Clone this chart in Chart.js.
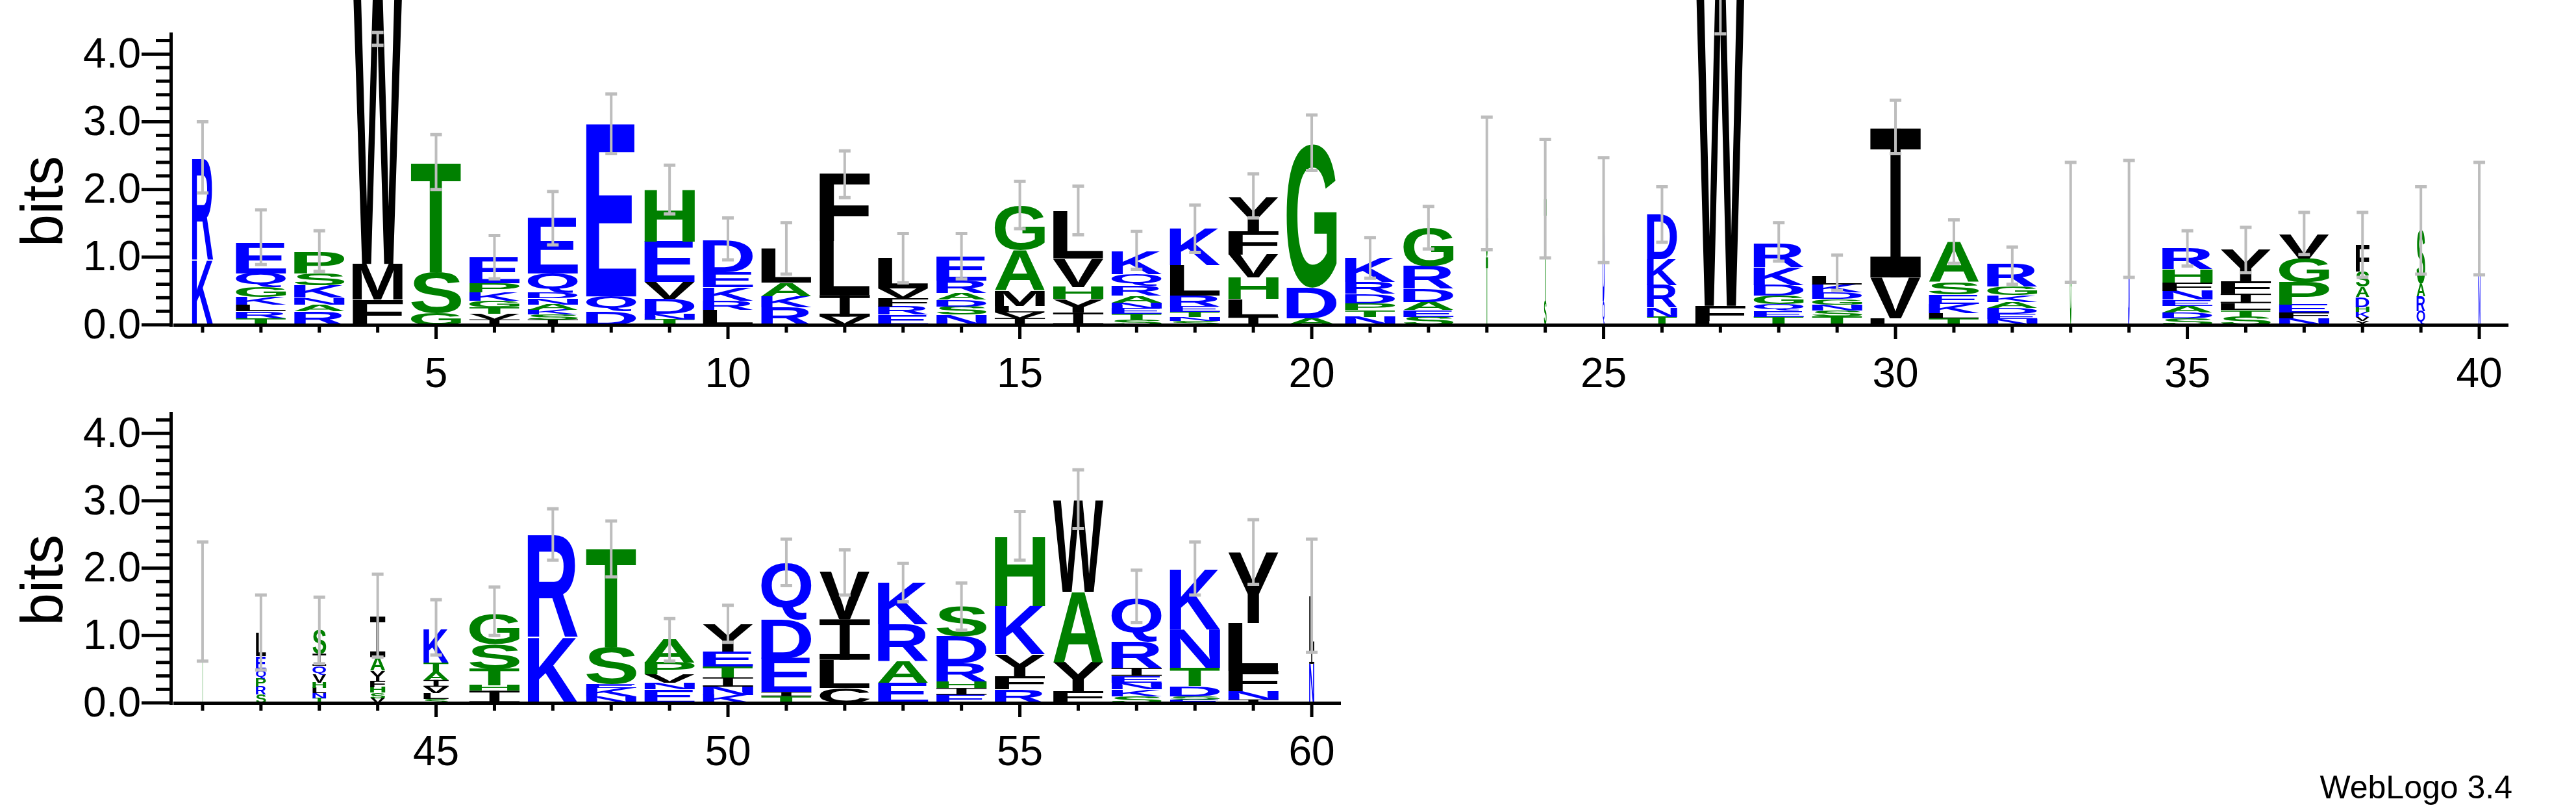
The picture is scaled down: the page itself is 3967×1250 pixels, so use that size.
<!DOCTYPE html>
<html>
<head>
<meta charset="utf-8">
<script src="https://cdn.jsdelivr.net/npm/chart.js@4"></script>
<style>
  body { margin: 0; background: #fff; width: 3967px; height: 1250px; position: relative; overflow: hidden; }
  canvas { position: absolute; left: 0; }
  #credit { position: absolute; right: 98px; top: 1187px; font: 50px/1 "Liberation Sans", Arial, sans-serif; color: #000; }
</style>
</head>
<body>
<canvas id="top" width="3967" height="620" style="top:0"></canvas>
<canvas id="bottom" width="3967" height="630" style="top:620px"></canvas>
<div id="credit">WebLogo 3.4</div>
<script>
// Sequence logo data, one entry per position (letters listed bottom -> top)
const positions = [];
for (let i = 1; i <= 60; i++) positions.push(i);

const stackLetters = [
  "KR", "TRLKGQE", "RANKSP", "FMW", "GST", "IVTGKPE", "ISKANDQE", "DQE", "TNDVEH", "LRKED",
  "RKAL", "VILF", "ERFVL", "NSDARE", "IVLMAG", "IYHVL", "STENARQK", "SNTERLK", "ILHVFY", "ADG",
  "NTPDRK", "SEADRG", "TG", "ST", "QD", "TNRKD", "LFW", "TEQGDKR", "TSNGDKL", "LVI",
  "TLKESA", "NEDAKGR", "G", "D", "SDAENFHR", "STLIFY", "NFEPGV", "YVKHDASF", "QRAS", "NT",
  "T", "SRPQEL", "TNLHVQIS", "VSHFYAI", "SLVIATK", "IHTSG", "KR", "NKEST", "ENVPA", "KNITEY",
  "TIEDQ", "CLIV", "EARK", "EIHRDS", "RFYKH", "FYAW", "SKNEIRQ", "ESDTNK", "INFLY", "NIL"
];

const stackBits = [
  [0.95, 1.5], [0.1, 0.1, 0.1, 0.11, 0.15, 0.2, 0.45], [0.2, 0.1, 0.1, 0.18, 0.18, 0.32], [0.37, 0.53, 4.3], [0.17, 0.61, 1.62],
  [0.08, 0.08, 0.1, 0.1, 0.12, 0.13, 0.38], [0.08, 0.07, 0.07, 0.08, 0.09, 0.09, 0.28, 0.82], [0.2, 0.22, 2.55], [0.08, 0.08, 0.22, 0.25, 0.6, 0.77], [0.22, 0.14, 0.2, 0.22, 0.47],
  [0.26, 0.16, 0.2, 0.5], [0.12, 0.32, 0.8, 1.0], [0.15, 0.12, 0.12, 0.15, 0.45], [0.15, 0.12, 0.1, 0.1, 0.18, 0.36], [0.1, 0.08, 0.1, 0.22, 0.6, 0.66],
  [0.18, 0.2, 0.18, 0.42, 0.7], [0.08, 0.08, 0.08, 0.09, 0.1, 0.15, 0.17, 0.33], [0.06, 0.06, 0.07, 0.08, 0.16, 0.45, 0.55], [0.12, 0.26, 0.32, 0.34, 0.34, 0.5], [0.1, 0.45, 2.12],
  [0.12, 0.1, 0.1, 0.14, 0.17, 0.36], [0.12, 0.1, 0.12, 0.2, 0.33, 0.57], [1.0, 1.09], [0.35, 1.52], [0.35, 1.35],
  [0.12, 0.14, 0.33, 0.38, 0.66], [0.06, 0.22, 5.2], [0.12, 0.09, 0.1, 0.12, 0.16, 0.26, 0.35], [0.12, 0.09, 0.09, 0.08, 0.1, 0.12, 0.12], [0.1, 0.6, 2.2],
  [0.1, 0.07, 0.14, 0.14, 0.18, 0.6], [0.09, 0.07, 0.09, 0.09, 0.1, 0.12, 0.33], [1.5], [1.58], [0.1, 0.08, 0.1, 0.09, 0.13, 0.12, 0.2, 0.31],
  [0.12, 0.1, 0.1, 0.14, 0.18, 0.46], [0.1, 0.08, 0.12, 0.33, 0.35, 0.36], [0.06, 0.06, 0.07, 0.07, 0.15, 0.15, 0.23, 0.39], [0.2, 0.22, 0.18, 0.8], [0.8, 0.76],
  [1.5], [0.12, 0.12, 0.12, 0.13, 0.2, 0.35], [0.07, 0.07, 0.08, 0.08, 0.12, 0.13, 0.18, 0.35], [0.07, 0.08, 0.08, 0.1, 0.15, 0.2, 0.6], [0.06, 0.08, 0.1, 0.1, 0.12, 0.14, 0.5],
  [0.18, 0.08, 0.25, 0.36, 0.44], [0.97, 1.52], [0.1, 0.12, 0.06, 0.55, 1.47], [0.2, 0.1, 0.12, 0.18, 0.35], [0.12, 0.12, 0.14, 0.16, 0.22, 0.4],
  [0.1, 0.06, 0.5, 0.58, 0.84], [0.22, 0.42, 0.6, 0.7], [0.3, 0.32, 0.55, 0.62], [0.12, 0.1, 0.1, 0.27, 0.4, 0.44], [0.2, 0.2, 0.32, 0.72, 1.03],
  [0.17, 0.43, 1.05, 1.36], [0.1, 0.1, 0.1, 0.1, 0.12, 0.39, 0.65], [0.05, 0.05, 0.15, 0.27, 0.57, 0.9], [0.05, 0.12, 0.3, 0.72, 1.05], [0.58, 0.2, 0.8]
];

const colWeight = [
  0.42, 1, 1, 1, 1, 1, 1, 1, 1, 1, 1, 1, 1, 1, 1, 1, 1, 1, 1, 1,
  1, 1, 0.04, 0.05, 0.04, 0.6, 1, 1, 1, 1, 1, 1, 0.03, 0.03, 1, 1, 1, 0.27, 0.17, 0.04,
  0.02, 0.2, 0.27, 0.3, 0.5, 1, 1, 1, 1, 1, 1, 1, 1, 1, 1, 1, 1, 1, 1, 0.1
];

const errLow = [
  1.95, 0.89, 0.79, 4.13, 2.0, 0.68, 1.18, 2.53, 1.64, 0.96, 0.75, 1.88, 0.62, 0.68, 1.42, 1.33, 0.82, 1.07, 1.58, 2.28,
  0.69, 1.12, 1.11, 0.99, 0.92, 1.22, 4.3, 0.94, 0.51, 2.53, 0.91, 0.6, 0.63, 0.7, 0.87, 0.77, 1.04, 0.7, 0.75, 0.74,
  0.62, 0.49, 0.58, 0.68, 0.71, 1.0, 2.12, 1.87, 0.62, 0.9, 1.74, 1.6, 1.5, 1.08, 2.12, 2.59, 1.19, 1.6, 1.76, 0.75
];
const errHigh = [
  3.0, 1.7, 1.39, 4.32, 2.81, 1.32, 1.97, 3.41, 2.36, 1.58, 1.51, 2.57, 1.35, 1.35, 2.12, 2.05, 1.38, 1.77, 2.23, 3.1,
  1.29, 1.75, 3.07, 2.74, 2.47, 2.04, 5.0, 1.51, 1.03, 3.32, 1.55, 1.15, 2.4, 2.43, 1.39, 1.44, 1.66, 1.66, 2.04, 2.4,
  2.39, 1.6, 1.57, 1.91, 1.53, 1.72, 2.88, 2.7, 1.25, 1.45, 2.43, 2.27, 2.07, 1.78, 2.84, 3.46, 1.97, 2.39, 2.72, 2.43
];

const yTickLabels = ["0.0", "1.0", "2.0", "3.0", "4.0"];

function letterColor(ch) {
  if ("RKDENQ".includes(ch)) return "#0000ff";
  if ("SGHTAP".includes(ch)) return "#008000";
  return "#000000";
}

const glyphCache = {};
function glyph(ctx, ch) {
  if (!glyphCache[ch]) {
    ctx.font = 'bold 200px "Liberation Sans", Arial, sans-serif';
    const m = ctx.measureText(ch);
    glyphCache[ch] = { l: m.actualBoundingBoxLeft, r: m.actualBoundingBoxRight, a: m.actualBoundingBoxAscent, d: m.actualBoundingBoxDescent };
  }
  return glyphCache[ch];
}

// draws the letters, error bars and the axes
const logoPlugin = {
  id: 'logo',
  afterDraw(chart, args, opts) {
    const ctx = chart.ctx;
    const xs = chart.scales.x, ys = chart.scales.y;
    const unit = xs.getPixelForValue(1) - xs.getPixelForValue(0);
    ctx.save();
    ctx.textBaseline = 'alphabetic';
    for (let p = opts.from; p <= opts.to; p++) {
      const i = p - 1;
      const w = unit * 0.86 * colWeight[i];
      const cx = xs.getPixelForValue(p);
      let acc = 0;
      const lets = stackLetters[i], bits = stackBits[i];
      for (let k = 0; k < lets.length; k++) {
        const ch = lets[k];
        const yb = ys.getPixelForValue(acc);
        const yt = ys.getPixelForValue(acc + bits[k]);
        acc += bits[k];
        const h = yb - yt;
        if (h < 0.5) continue;
        ctx.fillStyle = letterColor(ch);
        if (ch === 'I') {
          // serif I like the weblogo font
          const bar = Math.max(1, h * 0.14);
          const stem = w * 0.2;
          ctx.fillRect(cx - w / 2, yt, w, bar);
          ctx.fillRect(cx - w / 2, yb - bar, w, bar);
          ctx.fillRect(cx - stem / 2, yt, stem, h);
          continue;
        }
        const g = glyph(ctx, ch);
        ctx.save();
        ctx.translate(cx - w / 2, yt);
        ctx.scale(w / (g.l + g.r), h / (g.a + g.d));
        ctx.font = 'bold 200px "Liberation Sans", Arial, sans-serif';
        ctx.fillText(ch, g.l, g.a);
        ctx.restore();
      }
      // error bar
      const ylo = ys.getPixelForValue(errLow[i]), yhi = ys.getPixelForValue(errHigh[i]);
      ctx.strokeStyle = '#bdbdbd';
      ctx.lineWidth = 4;
      ctx.beginPath();
      ctx.moveTo(cx, ylo); ctx.lineTo(cx, yhi);
      ctx.stroke();
      ctx.lineWidth = 5;
      ctx.beginPath();
      ctx.moveTo(cx - 9, ylo); ctx.lineTo(cx + 9, ylo);
      ctx.moveTo(cx - 9, yhi); ctx.lineTo(cx + 9, yhi);
      ctx.stroke();
    }
    // axes
    const y0 = ys.getPixelForValue(0);
    const yTop = ys.getPixelForValue(ys.max);
    const xl = xs.getPixelForValue(xs.min), xr = xs.getPixelForValue(xs.max);
    ctx.fillStyle = '#000';
    ctx.fillRect(xl - 6, yTop, 5, y0 - yTop + 3);
    ctx.fillRect(xl, y0 - 2, xr - xl, 5);
    ctx.font = '64px "Liberation Sans", Arial, sans-serif';
    ctx.textAlign = 'right';
    ctx.textBaseline = 'middle';
    for (let t = 0; t <= 21; t++) {
      const v = t * 0.2;
      const yy = ys.getPixelForValue(v);
      const major = t % 5 === 0;
      const len = major ? 43 : 21;
      ctx.fillRect(xl - 6 - len, yy - 2.5, len, 5);
      if (major) ctx.fillText(yTickLabels[t / 5], xl - 50, yy + 3);
    }
    ctx.textAlign = 'center';
    ctx.textBaseline = 'middle';
    for (let p = opts.from; p <= opts.to; p++) {
      const xx = xs.getPixelForValue(p);
      const major = p % 5 === 0;
      ctx.fillRect(xx - 2.5, y0, 5, major ? 22 : 12);
      if (major) ctx.fillText(String(p), xx, y0 + 78);
    }
    ctx.save();
    ctx.translate(xl - 196, (y0 + yTop) / 2 + 35);
    ctx.rotate(-Math.PI / 2);
    ctx.font = '90px "Liberation Sans", Arial, sans-serif';
    ctx.fillText('bits', 0, 0);
    ctx.restore();
    ctx.restore();
  }
};

function makeLogo(id, from, to, pad) {
  return new Chart(document.getElementById(id), {
    type: 'scatter',
    data: { datasets: [{ data: positions.slice(from - 1, to).map(p => ({ x: p, y: 0 })), pointRadius: 0 }] },
    options: {
      responsive: false,
      devicePixelRatio: 1,
      animation: false,
      layout: { padding: pad },
      plugins: { legend: { display: false }, tooltip: { enabled: false }, logo: { from: from, to: to } },
      scales: {
        x: { type: 'linear', min: from - 0.5, max: to + 0.5, display: false },
        y: { min: 0, max: 4.32, display: false }
      }
    },
    plugins: [logoPlugin]
  });
}

makeLogo('top', 1, 40, { left: 267, right: 104, top: 50, bottom: 120 });
makeLogo('bottom', 41, 60, { left: 267, right: 1902, top: 14, bottom: 168 });
</script>
</body>
</html>
